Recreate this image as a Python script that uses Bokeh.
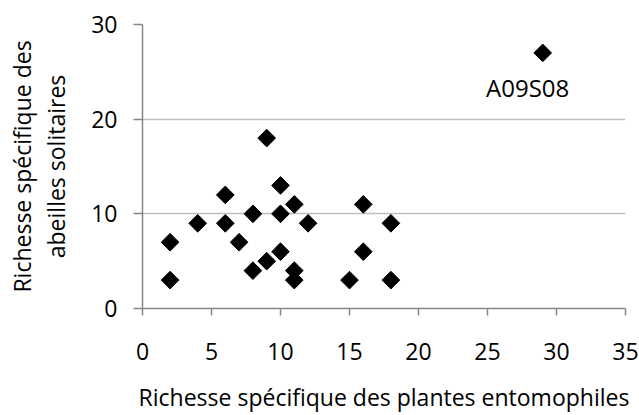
import math
from bokeh.plotting import figure
from bokeh.models import Range1d, FixedTicker, ColumnDataSource, LabelSet
from bokeh.embed import file_html
from bokeh.resources import INLINE
from bokeh.core.properties import value

# ---- data ----
plant_richness = [2, 2, 4, 6, 6, 7, 8, 8, 9, 9, 10, 10, 10, 11, 11, 11, 12, 15, 16, 16, 18, 18, 29]
bee_richness = [7, 3, 9, 12, 9, 7, 10, 4, 18, 5, 13, 10, 6, 11, 4, 3, 9, 3, 11, 6, 9, 3, 27]
label_x = [29]
label_y = [27]
label_text = ["A09S08"]
x_ticks = [0, 5, 10, 15, 20, 25, 30, 35]
y_ticks = [0, 10, 20, 30]
x_title = "Richesse spécifique des plantes entomophiles"
y_title = "Richesse spécifique des\nabeilles solitaires"

FONT = "Open Sans"
FS = "23px"
TXT = "#000000"

p = figure(width=639, height=415, output_backend="svg", toolbar_location=None,
           x_range=Range1d(0, 35), y_range=Range1d(0, 30),
           min_border_left=142, min_border_right=14, min_border_top=24, min_border_bottom=107)
p.outline_line_color = None
p.background_fill_color = "white"
p.border_fill_color = "white"

src = ColumnDataSource(dict(x=plant_richness, y=bee_richness))
p.scatter("x", "y", source=src, marker="square", angle=math.pi / 4, size=12.5,
          fill_color="black", line_color="black")

lab_src = ColumnDataSource(dict(x=label_x, y=label_y, t=label_text))
p.add_layout(LabelSet(x="x", y="y", text="t", source=lab_src, x_offset=-15, y_offset=-35,
                      text_align="center", text_baseline="middle",
                      text_font=value(FONT), text_font_size="24px", text_color=TXT))

# grid
p.xgrid.grid_line_color = None
p.ygrid.ticker = FixedTicker(ticks=y_ticks)
p.ygrid.grid_line_color = "#bfbfbf"
p.ygrid.grid_line_width = 1.5

for ax in (p.xaxis[0], p.yaxis[0]):
    ax.axis_line_color = "#868686"
    ax.axis_line_width = 1.5
    ax.major_tick_line_color = "#868686"
    ax.major_tick_line_width = 1.5
    ax.major_tick_in = 0
    ax.minor_tick_line_color = None
    ax.major_label_text_font = FONT
    ax.major_label_text_font_size = FS
    ax.major_label_text_color = TXT
    ax.axis_label_text_font = FONT
    ax.axis_label_text_font_size = FS
    ax.axis_label_text_font_style = "normal"
    ax.axis_label_text_color = TXT

p.xaxis.ticker = FixedTicker(ticks=x_ticks)
p.xaxis.major_tick_out = 7
p.xaxis.major_label_standoff = 27
p.xaxis.axis_label = x_title
p.xaxis.axis_label_standoff = 18

p.yaxis.ticker = FixedTicker(ticks=y_ticks)
p.yaxis.major_tick_out = 9
p.yaxis.major_label_standoff = 16
p.yaxis.axis_label = y_title
p.yaxis.axis_label_standoff = 16
p.yaxis.axis_label_text_line_height = 1.06

open("out.html", "w").write(file_html(p, INLINE))
